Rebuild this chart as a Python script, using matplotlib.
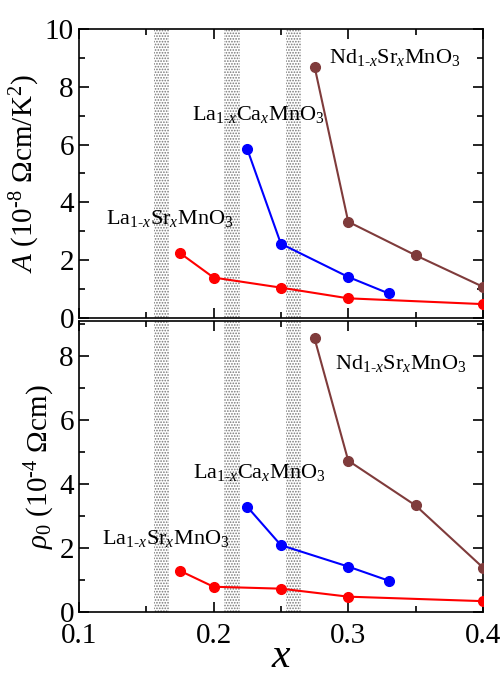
import numpy as np
import matplotlib
matplotlib.use("Agg")
import matplotlib.pyplot as plt
from matplotlib.ticker import MultipleLocator

plt.rcParams['font.family'] = ['Liberation Serif', 'DejaVu Serif']
plt.rcParams['mathtext.fontset'] = 'custom'
plt.rcParams['mathtext.rm'] = 'Liberation Serif'
plt.rcParams['mathtext.it'] = 'Liberation Serif:italic'
plt.rcParams['hatch.linewidth'] = 0.8

# La1-xSrxMnO3
lsmo_x = [0.175, 0.2, 0.25, 0.3, 0.4]
lsmo_A = [2.25, 1.40, 1.05, 0.68, 0.48]
lsmo_rho = [1.28, 0.78, 0.72, 0.47, 0.33]
# La1-xCaxMnO3
lcmo_x = [0.225, 0.25, 0.3, 0.33]
lcmo_A = [5.85, 2.57, 1.42, 0.85]
lcmo_rho = [3.28, 2.08, 1.41, 0.97]
# Nd1-xSrxMnO3
nsmo_x = [0.275, 0.3, 0.35, 0.4]
nsmo_A = [8.70, 3.33, 2.17, 1.08]
nsmo_rho = [8.54, 4.72, 3.32, 1.38]

bands = [(0.156, 0.167), (0.208, 0.220), (0.254, 0.265)]

red = '#ff0000'
blue = '#0000ff'
brown = '#7f3b3b'

fig = plt.figure(figsize=(5.02, 6.79), dpi=100)
ax1 = fig.add_axes([0.157, 0.5317, 0.805, 0.4256])
ax2 = fig.add_axes([0.157, 0.0991, 0.805, 0.428], sharex=ax1)

lbl = {
    'nd': r'Nd$_{1\text{-}x}$Sr$_x$MnO$_3$',
    'ca': r'La$_{1\text{-}x}$Ca$_x$MnO$_3$',
    'sr': r'La$_{1\text{-}x}$Sr$_x$MnO$_3$',
}

for ax, ys in ((ax1, (lsmo_A, lcmo_A, nsmo_A)), (ax2, (lsmo_rho, lcmo_rho, nsmo_rho))):
    for lo, hi in bands:
        ax.axvspan(lo, hi, facecolor='white', edgecolor='#777777', hatch='......', linewidth=0, zorder=0)
    ax.plot(lsmo_x, ys[0], '-o', color=red, lw=1.5, ms=7, zorder=3)
    ax.plot(lcmo_x, ys[1], '-o', color=blue, lw=1.5, ms=7, zorder=3)
    ax.plot(nsmo_x, ys[2], '-o', color=brown, lw=1.5, ms=7, zorder=3)
    ax.tick_params(which='both', direction='in', top=True, right=True, labelsize=21, width=1.2)
    ax.tick_params(which='major', length=7)
    ax.tick_params(which='minor', length=4)
    ax.tick_params(axis='x', pad=8)
    ax.xaxis.set_major_locator(MultipleLocator(0.1))
    ax.xaxis.set_minor_locator(MultipleLocator(0.05))
    ax.yaxis.set_major_locator(MultipleLocator(2))
    ax.yaxis.set_minor_locator(MultipleLocator(1))
    for s in ax.spines.values():
        s.set_linewidth(1.2)

ax1.set_xlim(0.1, 0.4)
ax1.set_ylim(0, 10)
ax2.set_ylim(0, 9.08)
plt.setp(ax1.get_xticklabels(), visible=False)

ax1.set_ylabel(r'$A$ (10$^{\text{-}8}$ Ωcm/K$^2$)', fontsize=21, labelpad=2)
ax2.set_ylabel(r'$\rho_0$ (10$^{\text{-}4}$ Ωcm)', fontsize=21, labelpad=2)
ax2.set_xlabel(r'$x$', fontsize=30, labelpad=-8)

ax1.text(0.286, 9.0, lbl['nd'], fontsize=16, va='center')
ax1.text(0.184, 7.05, lbl['ca'], fontsize=16, va='center')
ax1.text(0.120, 3.45, lbl['sr'], fontsize=16, va='center')
ax2.text(0.290, 7.75, lbl['nd'], fontsize=16, va='center')
ax2.text(0.185, 4.35, lbl['ca'], fontsize=16, va='center')
ax2.text(0.117, 2.3, lbl['sr'], fontsize=16, va='center')

fig.savefig('out.png', dpi=100)
